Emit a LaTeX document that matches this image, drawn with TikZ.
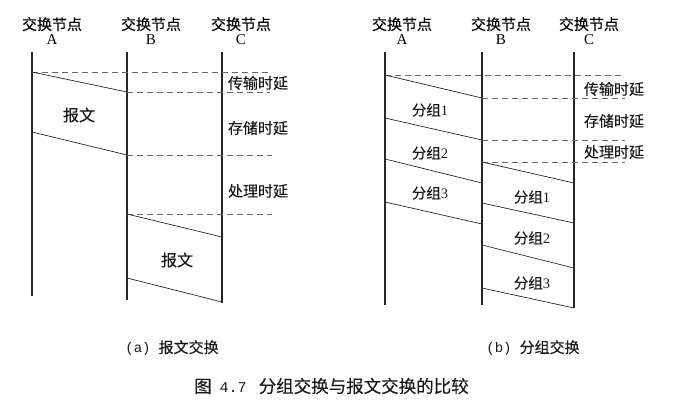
\documentclass[tikz,border=0pt]{standalone}
\usepackage{fontspec}
\setmainfont{Liberation Serif}
\newfontfamily\cjk[FakeBold=0.2]{Noto Sans CJK SC}
\newfontfamily\monof{Liberation Mono}
\begin{document}
\begin{tikzpicture}[x=1pt,y=-1pt,
  lifeline/.style={line width=1.3pt,black!85},
  slant/.style={line width=0.7pt,black!85},
  delay/.style={line width=0.7pt,black!60,dash pattern=on 6pt off 4pt},
  head/.style={align=center,inner sep=0pt,font=\fontsize{15}{17}\selectfont},
  lbl/.style={inner sep=0pt,font=\fontsize{15}{15}\selectfont\cjk,black!90},
  pkt/.style={inner sep=0pt,font=\fontsize{14.5}{15}\selectfont,black!90},
  captxt/.style={inner sep=0pt,font=\fontsize{15}{15}\selectfont,black!90}]
\useasboundingbox (0,0) rectangle (673,400);
% ---------- (a) message switching ----------
\foreach \n/\x/\y/\l in {la/32/296/A, lb/127/300/B, lc/222/303/C}{
  \coordinate (\n top) at (\x,52);
  \coordinate (\n bot) at (\x,\y);
  \draw[lifeline] (\n top) -- (\n bot);
}
\node[head] (ha) at (52,31) {{\cjk 交换节点}\\[-2pt]A};
\node[head] (hb) at (151,31) {{\cjk 交换节点}\\[-2pt]B};
\node[head] (hc) at (241,31) {{\cjk 交换节点}\\[-2pt]C};
% endpoints
\coordinate (a1) at (32,72);   \coordinate (a1e) at (268,72);
\coordinate (b1) at (127,92);  \coordinate (b1e) at (270,92);
\coordinate (a2) at (32,132);  \coordinate (b2) at (127,155); \coordinate (b2e) at (272,155);
\coordinate (b3) at (127,214); \coordinate (b3e) at (272,214);
\coordinate (c3) at (222,237);
\coordinate (b4) at (127,278); \coordinate (c4) at (222,302);
\draw[delay] (a1) -- (a1e);
\draw[delay] (b1) -- (b1e);
\draw[delay] (b2) -- (b2e);
\draw[delay] (b3) -- (b3e);
\draw[slant] (a1) -- (b1);
\draw[slant] (a2) -- (b2);
\draw[slant] (b3) -- (c3);
\draw[slant] (b4) -- (c4);
\node[lbl] (ta1) at (258,83) {传输时延};
\node[lbl] (ta2) at (258,128) {存储时延};
\node[lbl] (ta3) at (258,191) {处理时延};
\node[lbl,font=\fontsize{16}{16}\selectfont\cjk] (ma) at (79,115) {报文};
\node[lbl,font=\fontsize{16}{16}\selectfont\cjk] (mb) at (177,260) {报文};
% ---------- (b) packet switching ----------
\foreach \n/\x/\y in {ra/385/305, rb/482/305, rc/574/308}{
  \coordinate (\n top) at (\x,52);
  \coordinate (\n bot) at (\x,\y);
  \draw[lifeline] (\n top) -- (\n bot);
}
\node[head] (hra) at (402,31) {{\cjk 交换节点}\\[-2pt]A};
\node[head] (hrb) at (501,31) {{\cjk 交换节点}\\[-2pt]B};
\node[head] (hrc) at (589,31) {{\cjk 交换节点}\\[-2pt]C};
\coordinate (p1) at (385,75);  \coordinate (p1e) at (623,75);
\coordinate (q1) at (482,98);  \coordinate (q1e) at (625,98);
\coordinate (p2) at (385,118); \coordinate (q2) at (482,140); \coordinate (q2e) at (625,140);
\coordinate (p3) at (385,159); \coordinate (q3) at (482,183);
\coordinate (p4) at (385,202); \coordinate (q4) at (482,224);
\coordinate (s1) at (482,162); \coordinate (s1e) at (625,162); \coordinate (t1) at (574,183);
\coordinate (s2) at (482,203); \coordinate (t2) at (574,223);
\coordinate (s3) at (482,245); \coordinate (t3) at (574,268);
\coordinate (s4) at (482,288); \coordinate (t4) at (574,308);
\draw[delay] (p1) -- (p1e);
\draw[delay] (q1) -- (q1e);
\draw[delay] (q2) -- (q2e);
\draw[delay] (s1) -- (s1e);
\draw[slant] (p1) -- (q1);
\draw[slant] (p2) -- (q2);
\draw[slant] (p3) -- (q3);
\draw[slant] (p4) -- (q4);
\draw[slant] (s1) -- (t1);
\draw[slant] (s2) -- (t2);
\draw[slant] (s3) -- (t3);
\draw[slant] (s4) -- (t4);
\node[lbl] (tb1) at (614,89) {传输时延};
\node[lbl] (tb2) at (614,121) {存储时延};
\node[lbl] (tb3) at (614,152) {处理时延};
\node[pkt] (g1) at (430,110) {{\cjk 分组}1};
\node[pkt] (g2) at (430,153) {{\cjk 分组}2};
\node[pkt] (g3) at (430,193) {{\cjk 分组}3};
\node[pkt] (h1) at (532,197) {{\cjk 分组}1};
\node[pkt] (h2) at (532,238) {{\cjk 分组}2};
\node[pkt] (h3) at (532,283) {{\cjk 分组}3};
% ---------- captions ----------
\node[captxt] (capa) at (172,348) {{\monof\fontsize{14}{14}\selectfont(a)}\hspace{8pt}{\cjk 报文交换}};
\node[captxt] (capb) at (533,348) {{\monof\fontsize{14}{14}\selectfont(b)}\hspace{8pt}{\cjk 分组交换}};
\node[captxt,anchor=west,font=\fontsize{17.5}{17.5}\selectfont] (fig) at (194,386) {{\cjk 图}\hspace{8pt}{\monof\fontsize{15}{15}\selectfont 4.7}\hspace{12pt}{\cjk 分组交换与报文交换的比较}};
\end{tikzpicture}
\end{document}
